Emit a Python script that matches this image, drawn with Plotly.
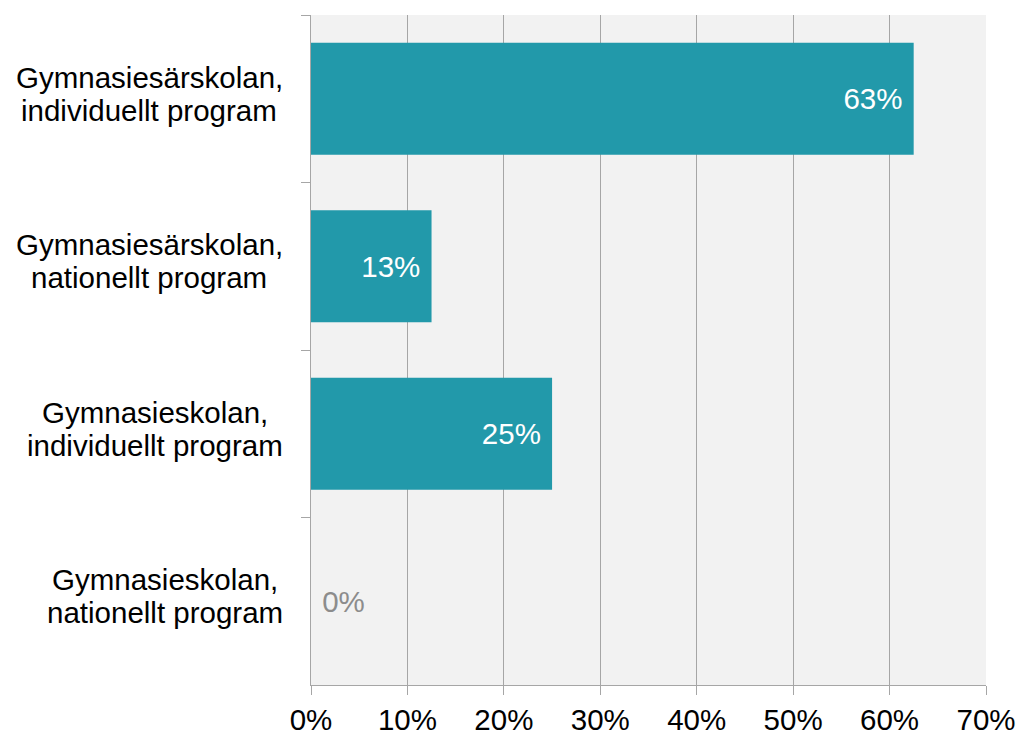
import plotly.graph_objects as go

categories = [
    "Gymnasiesärskolan,<br>individuellt program",
    "Gymnasiesärskolan,<br>nationellt program",
    "Gymnasieskolan,<br>individuellt program",
    "Gymnasieskolan,<br>nationellt program",
]
values = [0.625, 0.125, 0.25, 0.0]
x_ticks = [0, 0.1, 0.2, 0.3, 0.4, 0.5, 0.6, 0.7]

FONT = "Liberation Sans, Arial, sans-serif"
FS = 29.5
GRID = "#a6a6a6"

# Arial / Liberation Sans advance widths (per 1000 em) used to centre
# the two-line category labels as a block, like the original.
ARIAL_W = {
    "G": 778, "y": 500, "m": 833, "n": 556, "a": 556, "s": 500, "i": 222,
    "e": 556, "ä": 556, "r": 333, "k": 500, "o": 556, "l": 222, ",": 278,
    " ": 278, "d": 556, "v": 500, "u": 556, "t": 278, "p": 556, "g": 556,
    "c": 500, "h": 556,
}


def text_width(s, size):
    return sum(ARIAL_W.get(ch, 556) for ch in s) / 1000.0 * size


L, R, T, B = 311, 33, 15, 47
W, H = 1019, 732
plot_w = W - L - R
LABEL_RIGHT = 283  # px, right edge of widest label line
LINE_GAP = 33      # px between label lines

fig = go.Figure(
    go.Bar(
        x=values,
        y=categories,
        orientation="h",
        marker=dict(color="#2299aa", line=dict(width=0)),
        width=0.67,
        texttemplate=["%{x:.0%}\u00a0" if v > 0 else "\u00a0%{x:.0%}" for v in values],
        textposition=["inside" if v > 0 else "outside" for v in values],
        insidetextanchor="end",
        insidetextfont=dict(color="white", size=FS, family=FONT),
        outsidetextfont=dict(color="#8c8c8c", size=FS, family=FONT),
        cliponaxis=False,
        hoverinfo="skip",
    )
)

annotations = []
for cat in categories:
    lines = cat.split("<br>")
    block_w = max(text_width(s, FS) for s in lines)
    cx_px = LABEL_RIGHT - block_w / 2.0
    cx_paper = (cx_px - L) / plot_w
    n = len(lines)
    for i, line in enumerate(lines):
        offset = (i - (n - 1) / 2.0) * LINE_GAP
        annotations.append(
            dict(
                x=cx_paper,
                xref="paper",
                y=cat,
                yref="y",
                text=line,
                showarrow=False,
                xanchor="center",
                yanchor="middle",
                yshift=-offset + 5,
                font=dict(family=FONT, size=FS, color="black"),
            )
        )

fig.update_layout(
    width=W,
    height=H,
    margin=dict(l=L, r=R, t=T, b=B, autoexpand=False),
    paper_bgcolor="white",
    plot_bgcolor="#f2f2f2",
    font=dict(family=FONT, size=FS, color="black"),
    showlegend=False,
    bargap=0.33,
    annotations=annotations,
)

fig.update_xaxes(
    range=[0, 0.7],
    tickvals=x_ticks,
    tickformat=".0%",
    showgrid=True,
    gridcolor=GRID,
    gridwidth=1,
    showline=True,
    linecolor=GRID,
    linewidth=1,
    ticks="outside",
    ticklen=9,
    tickcolor=GRID,
    zeroline=False,
    automargin=False,
    tickfont=dict(size=FS, color="black"),
)

fig.update_yaxes(
    type="category",
    autorange="reversed",
    tickson="boundaries",
    ticks="outside",
    ticklen=9,
    tickcolor=GRID,
    showline=True,
    linecolor=GRID,
    linewidth=1,
    showgrid=False,
    showticklabels=False,
    automargin=False,
)

fig.write_html(
    "out.html",
    config={"displayModeBar": False},
    post_script="document.body.style.margin='0';document.body.style.overflow='hidden';",
)
